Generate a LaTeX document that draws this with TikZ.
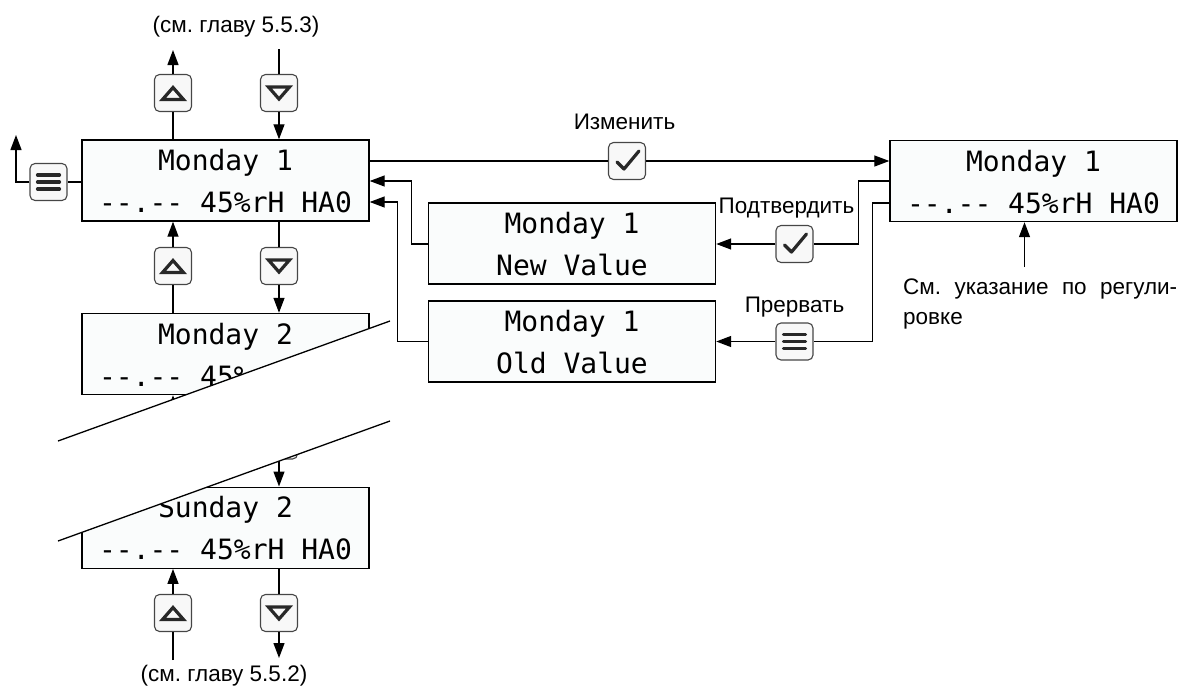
\documentclass[tikz,border=0pt]{standalone}
\usepackage{fontspec}
\setmainfont{Liberation Sans}
\newfontfamily\lcdfont{DejaVu Sans Mono}[Ligatures=TeXOff]
\usetikzlibrary{arrows.meta,calc}
\definecolor{boxfill}{RGB}{250,252,252}
\definecolor{btnfill}{RGB}{248,248,248}
\definecolor{btnline}{RGB}{70,70,70}
\definecolor{icongray}{RGB}{40,40,40}
\frenchspacing
\tikzset{
 lcdbox/.style={draw=black,line width=1.4pt,fill=boxfill,minimum width=287pt,minimum height=81pt,inner sep=0pt},
 lcdtext/.style={font=\fontsize{28}{28}\lcdfont,inner sep=0pt,anchor=base},
 btn/.style={draw=btnline,line width=1.1pt,fill=btnfill,rounded corners=5pt,minimum size=37pt,inner sep=0pt},
 lbl/.style={font=\fontsize{22.5}{26}\selectfont\frenchspacing,inner sep=0pt,anchor=base},
 wire/.style={line width=1.3pt},
 arr/.style={wire,-{Triangle[length=15pt,width=11pt]}},
 icon/.style={line width=3.2pt,draw=icongray},
 upicon/.pic={\draw[icon] (-10.5,6.5) -- (10.5,6.5) -- (0,-5.5) -- cycle;},
 dnicon/.pic={\draw[icon] (-10.5,-6) -- (10.5,-6) -- (0,6) -- cycle;},
 chkicon/.pic={\draw[icon,line cap=round,line join=round] (-10,1) -- (-3,8) -- (12,-10);},
 menuicon/.pic={\draw[icon,line cap=round] (-11,-7) -- (11,-7) (-11,0) -- (11,0) (-11,7) -- (11,7);}
}
\begin{document}
\frenchspacing
\begin{tikzpicture}[x=1pt,y=-1pt]
\useasboundingbox (0,0) rectangle (1181,691);
% LCD boxes
\node[lcdbox] (bA) at (225.5,180.5) {};
\node[lcdbox] (bB) at (225.5,354) {};
\node[lcdbox] (bC) at (225.5,527.7) {};
\node[lcdbox] (bD) at (572,243.5) {};
\node[lcdbox] (bE) at (572,341.3) {};
\node[lcdbox] (bF) at (1033.5,181) {};
\node[lcdtext] (A1) at ($(bA.center)+(0,-10)$) {Monday 1};
\node[lcdtext] (A2) at ($(bA.center)+(0,32)$) {--.-- 45\%rH HA0};
\node[lcdtext] (B1) at ($(bB.center)+(0,-10)$) {Monday 2};
\node[lcdtext] (B2) at ($(bB.center)+(0,32)$) {--.-- 45\%rH HA0};
\node[lcdtext] (C1) at ($(bC.center)+(0,-10)$) {Sunday 2};
\node[lcdtext] (C2) at ($(bC.center)+(0,32)$) {--.-- 45\%rH HA0};
\node[lcdtext] (D1) at ($(bD.center)+(0,-10)$) {Monday 1};
\node[lcdtext] (D2) at ($(bD.center)+(0,32)$) {New Value};
\node[lcdtext] (E1) at ($(bE.center)+(0,-10)$) {Monday 1};
\node[lcdtext] (E2) at ($(bE.center)+(0,32)$) {Old Value};
\node[lcdtext] (F1) at ($(bF.center)+(0,-10)$) {Monday 1};
\node[lcdtext] (F2) at ($(bF.center)+(0,32)$) {--.-- 45\%rH HA0};
% buttons
\node[btn] (u0) at (173,93) {};   \pic at (u0.center) {upicon};
\node[btn] (d0) at (279,93) {};   \pic at (d0.center) {dnicon};
\node[btn] (u1) at (173,266) {};  \pic at (u1.center) {upicon};
\node[btn] (d1) at (279,266) {};  \pic at (d1.center) {dnicon};
\node[btn] (u2) at (173,440.5) {};\pic at (u2.center) {upicon};
\node[btn] (d2) at (279,440.5) {};\pic at (d2.center) {dnicon};
\node[btn] (u3) at (173,613) {};  \pic at (u3.center) {upicon};
\node[btn] (d3) at (279,613) {};  \pic at (d3.center) {dnicon};
\node[btn] (m0) at (48.5,182) {}; \pic at (m0.center) {menuicon};
\node[btn] (c1) at (627,161) {};  \pic at (c1.center) {chkicon};
\node[btn] (c2) at (794.5,244) {};\pic at (c2.center) {chkicon};
\node[btn] (m1) at (794.5,341.5) {};\pic at (m1.center) {menuicon};
% free ends
\coordinate (t0) at (173,50);
\coordinate (s0) at (279,49);
\coordinate (e3) at (173,660);
\coordinate (e4) at (279,658);
\coordinate (t1) at (16,135);
\coordinate (n0) at (1024.5,267);
% vertical chain
\draw[arr] (u0.north) -- (t0);
\draw[wire] (u0 |- bA.north) -- (u0.south);
\draw[wire] (s0) -- (d0.north);
\draw[arr] (d0.south) -- (d0 |- bA.north);
\draw[arr] (u1.north) -- (u1 |- bA.south);
\draw[wire] (u1 |- bB.north) -- (u1.south);
\draw[wire] (d1 |- bA.south) -- (d1.north);
\draw[arr] (d1.south) -- (d1 |- bB.north);
\draw[arr] (u2.north) -- (u2 |- bB.south);
\draw[wire] (u2 |- bC.north) -- (u2.south);
\draw[wire] (d2 |- bB.south) -- (d2.north);
\draw[arr] (d2.south) -- (d2 |- bC.north);
\draw[arr] (u3.north) -- (u3 |- bC.south);
\draw[wire] (e3) -- (u3.south);
\draw[wire] (d3 |- bC.south) -- (d3.north);
\draw[arr] (d3.south) -- (e4);
% menu left
\draw[wire] (bA.west |- m0) -- (m0.east);
\draw[arr] (m0.west) -| (t1);
% right side
\draw[wire] (bA.east |- c1) -- (c1.west);
\draw[arr] (c1.east) -- (bF.west |- c1);
\draw[wire] (bF.west) -- ++(-31,0) |- (c2.east);
\draw[arr] (c2.west) -- (bD.east |- c2);
\draw[wire] ($(bF.west)+(0,22)$) -- ++(-17,0) |- (m1.east);
\draw[arr] (m1.west) -- (bE.east |- m1);
\draw[arr] (bD.west |- c2) -- ++(-16,0) |- ($(bA.east)+(0,0.5)$);
\draw[arr] (bE.west |- m1) -- ++(-30,0) |- ($(bA.east)+(0,21.5)$);
\draw[arr] (n0) -- (n0 |- bF.south);
% labels
\node[lbl] (L1) at (236,32.7) {(см. главу 5.5.3)};
\node[lbl] (L2) at (224,681) {(см. главу 5.5.2)};
\node[lbl] (L3) at (624.5,129.3) {Изменить};
\node[lbl] (L4) at (786.5,213) {Подтвердить};
\node[lbl] (L5) at (794.5,312.7) {Прервать};
\node[font=\fontsize{22.5}{30}\selectfont\frenchspacing,text width=274pt,align=justify,inner sep=0pt,anchor=base west] (L6) at (903,294.3) {\noindent См. указание по регули-\linebreak ровке};
% break band
\fill[white] (58,441) -- (390,321) -- (390,421) -- (58,541) -- cycle;
\draw[wire] (58,441) -- (390,321);
\draw[wire] (58,541) -- (390,421);
\end{tikzpicture}
\end{document}
